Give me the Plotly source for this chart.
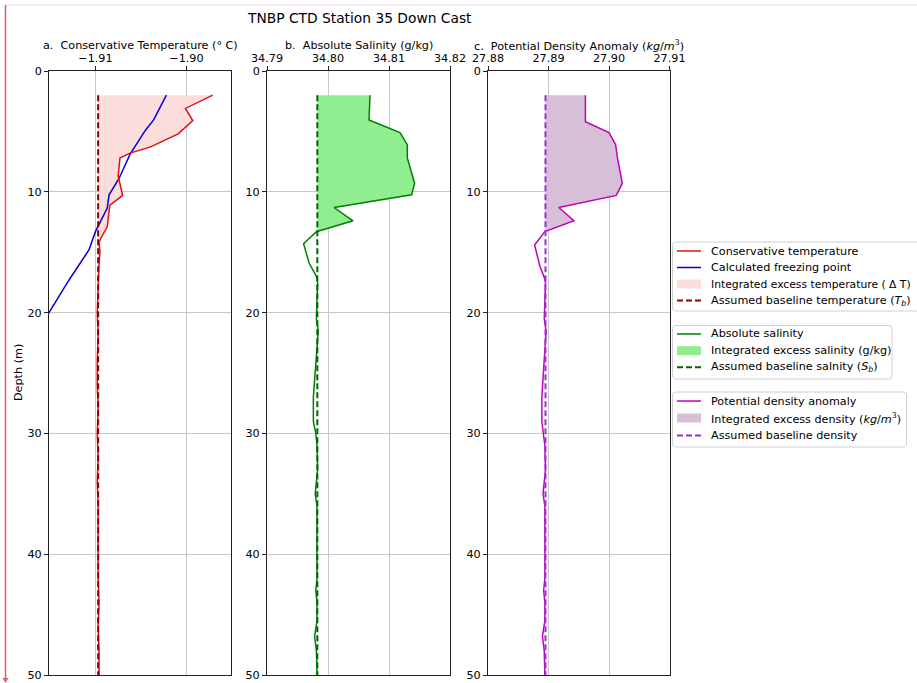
import plotly.graph_objects as go

# ---- CTD profile, station 35, down cast ----
# Conservative temperature (deg C)
depth_t = [2, 3.1, 4.1, 5.2, 6.3, 6.8, 7.2, 8.7, 10.3, 11.1, 11.6, 12.9, 13.7, 14.2,
           15.0, 16, 18, 20, 22, 24, 26, 28, 30, 32, 34, 36, 38, 40, 42, 44, 46, 48, 50]
cons_temp = [-1.8971, -1.9001, -1.8993, -1.9009, -1.9040, -1.9062, -1.9073, -1.9075,
             -1.9070, -1.9084, -1.9085, -1.9087, -1.9093, -1.9096, -1.9095, -1.9096,
             -1.9097, -1.9098, -1.9097, -1.9098, -1.9098, -1.9097, -1.9098, -1.9097,
             -1.9098, -1.9097, -1.9097, -1.9097, -1.9097, -1.9096, -1.9097, -1.9096, -1.9096]
temp_baseline = -1.9097

# Calculated freezing point (deg C)
depth_f = [2, 4.05, 4.9, 6.9, 8.9, 10.25, 11.35, 13.3, 14.8, 17.3, 20.0, 22]
freeze_temp = [-1.9022, -1.9036, -1.9045, -1.9062, -1.9074, -1.9085, -1.9087,
               -1.9100, -1.9107, -1.9129, -1.9151, -1.9166]

# Absolute salinity (g/kg)
depth_s = [2, 4.05, 5.1, 6.1, 7.2, 9.3, 10.25, 11.3, 12.4, 13.3, 14.3, 15.9, 17.0, 17.5,
           19, 20.5, 21.5, 23, 25, 27, 29, 30, 31, 33, 35, 36, 38, 40, 42, 43, 44,
           45.5, 46.8, 48, 49, 50]
abs_sal = [34.80689, 34.80672, 34.8118, 34.8130, 34.8130, 34.8142, 34.8137, 34.8010,
           34.8041, 34.7981, 34.7960, 34.7969, 34.7981, 34.7983, 34.7982, 34.7981,
           34.7984, 34.7982, 34.7979, 34.7976, 34.7976, 34.7980, 34.7982, 34.7983,
           34.7979, 34.7982, 34.7982, 34.7982, 34.7982, 34.7980, 34.7982, 34.7982,
           34.7978, 34.7981, 34.7982, 34.7982]
sal_baseline = 34.79825

# Potential density anomaly (kg/m^3)
depth_d = [2, 4.2, 5.1, 6.1, 7.2, 9.3, 10.3, 11.3, 12.4, 13.3, 14.4, 16.2, 17.1, 17.5,
           19, 20.5, 21.5, 23, 25, 27, 29, 30, 31, 33, 35, 36, 38, 40, 42, 43, 44,
           45.5, 46.8, 48, 49, 50]
pot_dens = [27.8961, 27.8961, 27.9000, 27.9011, 27.9014, 27.9022, 27.9012, 27.8917,
            27.8942, 27.8894, 27.8877, 27.8886, 27.8893, 27.8895, 27.8894, 27.8893,
            27.8896, 27.8894, 27.8891, 27.8889, 27.8889, 27.8892, 27.8894, 27.8895,
            27.8891, 27.8894, 27.8894, 27.8894, 27.8894, 27.8892, 27.8894, 27.8894,
            27.8890, 27.8893, 27.8894, 27.8894]
dens_baseline = 27.8895

# Axis ticks
depth_ticks = [0, 10, 20, 30, 40, 50]
temp_ticks = [-1.91, -1.90]
temp_ticktext = ["\u22121.91", "\u22121.90"]
sal_ticks = [34.79, 34.80, 34.81, 34.82]
dens_ticks = [27.88, 27.89, 27.90, 27.91]

# Colours
C_TEMP, C_FREEZE, C_TB = "#e01010", "#0000dd", "#8b0000"
C_TFILL = "#fbdedb"
C_SAL, C_SFILL, C_SB = "#008000", "#90ee90", "#006400"
C_DENS, C_DFILL, C_DB = "#bf00bf", "#d8bfd8", "#9932cc"

# Legend groups: (label, kind, colour)
legend_temp = [
    ("Conservative temperature", "line", C_TEMP),
    ("Calculated freezing point", "line", C_FREEZE),
    ("Integrated excess temperature ( \u0394 T)", "patch", C_TFILL),
    ("Assumed baseline temperature (<i>T<sub>b</sub></i>)", "dash", C_TB),
]
legend_sal = [
    ("Absolute salinity", "line", C_SAL),
    ("Integrated excess salinity (g/kg)", "patch", C_SFILL),
    ("Assumed baseline salnity (<i>S<sub>b</sub></i>)", "dash", C_SB),
]
legend_dens = [
    ("Potential density anomaly", "line", C_DENS),
    ("Integrated excess density (<i>kg</i>/<i>m</i><sup>3</sup>)", "patch", C_DFILL),
    ("Assumed baseline density", "dash", C_DB),
]

FONT = "DejaVu Sans"
FS = 11.2
W, H = 917, 683


def px(x):
    return x / W


def py(y):
    return 1 - y / H


def excess_polygon(depth, values, base):
    """Closed outline of the region where the profile exceeds its baseline."""
    upper = [max(v, base) for v in values]
    xs = upper + [base] * len(depth)
    ys = list(depth) + list(depth)[::-1]
    return xs, ys


fig = go.Figure()


def add_panel(depth, values, base, line_col, fill_col, base_col, ax, extra=None):
    xa, ya = ("x", "y") if ax == 1 else (f"x{ax}", f"y{ax}")
    fx, fy = excess_polygon(depth, values, base)
    fig.add_trace(go.Scatter(x=fx, y=fy, fill="toself", mode="lines", line=dict(width=0),
                             fillcolor=fill_col, hoverinfo="skip", xaxis=xa, yaxis=ya))
    if extra is not None:
        fig.add_trace(go.Scatter(x=extra[1], y=extra[0], mode="lines",
                                 line=dict(color=extra[2], width=1.5), xaxis=xa, yaxis=ya))
    fig.add_trace(go.Scatter(x=values, y=depth, mode="lines",
                             line=dict(color=line_col, width=1.5), xaxis=xa, yaxis=ya))
    fig.add_trace(go.Scatter(x=[base, base], y=[depth[0], depth[-1]], mode="lines",
                             line=dict(color=base_col, width=2, dash="6px,3px"),
                             xaxis=xa, yaxis=ya))


add_panel(depth_t, cons_temp, temp_baseline, C_TEMP, C_TFILL, C_TB, 1,
          extra=(depth_f, freeze_temp, C_FREEZE))
add_panel(depth_s, abs_sal, sal_baseline, C_SAL, C_SFILL, C_SB, 2)
add_panel(depth_d, pot_dens, dens_baseline, C_DENS, C_DFILL, C_DB, 3)

# ---- axes ----
tick_font = dict(family=FONT, size=FS, color="black")
common_x = dict(side="top", showline=True, mirror=True, linecolor="#222", linewidth=1,
                ticks="outside", ticklen=4, tickcolor="#222", showgrid=True,
                gridcolor="#c8c8c8", gridwidth=1, zeroline=False, tickfont=tick_font,
                automargin=False)
common_y = dict(range=[50, 0], tickvals=depth_ticks, showline=True, mirror=True,
                linecolor="#222", linewidth=1, ticks="outside", ticklen=4, tickcolor="#222",
                showgrid=True, gridcolor="#c8c8c8", gridwidth=1, zeroline=False,
                tickfont=tick_font, automargin=False)

y_dom = [py(675), py(71)]
dom_a = [px(49), px(231)]
dom_b = [px(267), px(450)]
dom_c = [px(488), px(669.5)]

fig.update_layout(
    width=W, height=H, margin=dict(l=0, r=0, t=0, b=0, autoexpand=False),
    paper_bgcolor="white", plot_bgcolor="white",
    font=dict(family=FONT, size=FS, color="black"),
    showlegend=False,
    xaxis=dict(common_x, domain=dom_a, range=[-1.9151, -1.8951], tickvals=temp_ticks,
               ticktext=temp_ticktext, anchor="y"),
    yaxis=dict(common_y, domain=y_dom, anchor="x"),
    xaxis2=dict(common_x, domain=dom_b, range=[34.79, 34.82], tickvals=sal_ticks,
                tickformat=".2f", anchor="y2"),
    yaxis2=dict(common_y, domain=y_dom, anchor="x2"),
    xaxis3=dict(common_x, domain=dom_c, range=[27.88, 27.91], tickvals=dens_ticks,
                tickformat=".2f", anchor="y3"),
    yaxis3=dict(common_y, domain=y_dom, anchor="x3"),
)

# ---- titles ----
ann = [
    dict(text="TNBP CTD Station 35 Down Cast", x=px(359.5), y=py(18),
         font=dict(family=FONT, size=13.8, color="black")),
    dict(text="a.  Conservative Temperature (\u00b0 C)", x=px(140), y=py(46)),
    dict(text="b.  Absolute Salinity (g/kg)", x=px(358.5), y=py(46)),
    dict(text="c.  Potential Density Anomaly (<i>kg</i>/<i>m</i><sup>3</sup>)",
         x=px(578.5), y=py(45)),
    dict(text="Depth (m)", x=px(18), y=py(373), textangle=-90),
]
for a in ann:
    base = dict(xref="paper", yref="paper", showarrow=False, xanchor="center",
                yanchor="middle", font=dict(family=FONT, size=FS, color="black"))
    base.update(a)
    fig.add_annotation(**base)


# ---- legends (drawn as framed boxes to the right of the panels) ----
def rounded_box(x0, y0, x1, y1, r=3):
    return (f"M {px(x0 + r)} {py(y0)} L {px(x1 - r)} {py(y0)} "
            f"Q {px(x1)} {py(y0)} {px(x1)} {py(y0 + r)} L {px(x1)} {py(y1 - r)} "
            f"Q {px(x1)} {py(y1)} {px(x1 - r)} {py(y1)} L {px(x0 + r)} {py(y1)} "
            f"Q {px(x0)} {py(y1)} {px(x0)} {py(y1 - r)} L {px(x0)} {py(y0 + r)} "
            f"Q {px(x0)} {py(y0)} {px(x0 + r)} {py(y0)} Z")


def draw_legend(entries, top, bottom, right, rows):
    fig.add_shape(type="path", xref="paper", yref="paper",
                  path=rounded_box(672.5, top, right, bottom),
                  fillcolor="white", line=dict(color="#d0d0d0", width=1), layer="above")
    for (label, kind, col), yc in zip(entries, rows):
        if kind == "line":
            fig.add_shape(type="line", xref="paper", yref="paper", x0=px(677), x1=px(701),
                          y0=py(yc), y1=py(yc), line=dict(color=col, width=1.5),
                          layer="above")
        elif kind == "dash":
            fig.add_shape(type="line", xref="paper", yref="paper", x0=px(677), x1=px(701),
                          y0=py(yc), y1=py(yc),
                          line=dict(color=col, width=2, dash="6px,3px"), layer="above")
        else:
            fig.add_shape(type="rect", xref="paper", yref="paper", x0=px(677), x1=px(701),
                          y0=py(yc - 4.5), y1=py(yc + 4.5), fillcolor=col,
                          line=dict(width=0), layer="above")
        # the delta label is the widest line; keep it inside the page edge
        size = FS - 0.45 if "\u0394" in label else FS
        fig.add_annotation(text=label, xref="paper", yref="paper", x=px(708.5), y=py(yc),
                           xanchor="left", yanchor="middle", showarrow=False,
                           font=dict(family=FONT, size=size, color="black"))


draw_legend(legend_temp, 242, 311, 925, [251, 267.5, 284, 300.5])
draw_legend(legend_sal, 325.5, 379, 892, [334, 350.7, 367.3])
draw_legend(legend_dens, 392, 447, 906.5, [401, 418, 435.5])

# ---- page frame marks ----
fig.add_shape(type="line", xref="paper", yref="paper", x0=px(5.5), x1=1, y0=py(5),
              y1=py(5), line=dict(color="#f6d4d4", width=1))
fig.add_shape(type="line", xref="paper", yref="paper", x0=px(5.5), x1=px(5.5),
              y0=py(5), y1=py(679), line=dict(color="#e06060", width=1.5))
fig.add_shape(type="path", xref="paper", yref="paper",
              path=f"M {px(2.5)} {py(678)} L {px(8.5)} {py(678)} L {px(5.5)} {py(683)} Z",
              fillcolor="#e06060", line=dict(width=0))

fig.write_html("out.html")
